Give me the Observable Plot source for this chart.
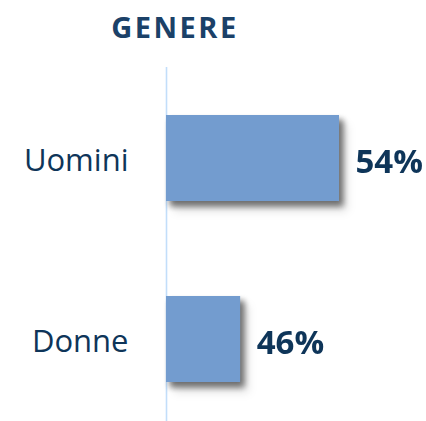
<!DOCTYPE html>
<html>
<head>
<meta charset="utf-8">
<script src="https://cdn.jsdelivr.net/npm/d3@7"></script>
<script src="https://cdn.jsdelivr.net/npm/@observablehq/plot@0.6"></script>
<style>
  html, body { margin: 0; padding: 0; background: #fff; }
  #wrap { position: relative; width: 426px; height: 421px; overflow: hidden; }
  #title { position: absolute; left: 0; width: 350px; top: 12px; text-align: center;
           font-family: "Open Sans", sans-serif; font-weight: 700; font-size: 29px; line-height: 29px;
           letter-spacing: 2.5px; color: #1b4168; }
  #chart { position: absolute; left: 0; top: 60px; }
</style>
</head>
<body>
<div id="wrap">
  <div id="title">GENERE</div>
  <div id="chart"></div>
</div>
<script>
const title = "GENERE";
const categories = ["Uomini", "Donne"];
const values = [54, 46];
const valueLabels = ["54%", "46%"];
const baseline = 40;

const data = categories.map((c, i) => ({category: c, value: values[i], label: valueLabels[i]}));

const shadow = "drop-shadow(4px 5px 3px rgba(0,0,0,0.35))";

const chart = Plot.plot({
  width: 426,
  height: 361,
  marginTop: 7,
  marginBottom: 0,
  marginLeft: 166,
  marginRight: 13,
  style: {background: "transparent", overflow: "visible"},
  x: {domain: [baseline, 54], range: [166, 339], axis: null},
  y: {domain: categories, range: [7.5, 369.5], paddingInner: 0.525, paddingOuter: 0.2625, axis: null},
  marks: [
    Plot.ruleX([baseline], {stroke: "#c2defa", strokeWidth: 1.6}),
    Plot.barX(data, {x1: () => baseline, x2: "value", y: "category", fill: "#739ccf", imageFilter: shadow}),
    Plot.text(data, {x: () => baseline, y: "category", text: "category", dx: -38, dy: 3, textAnchor: "end",
      fontFamily: "Open Sans", fontSize: 31, fill: "#0e3559"}),
    Plot.text(data, {x: "value", y: "category", text: "label", dx: 16, dy: 4, textAnchor: "start",
      fontFamily: "Open Sans", fontWeight: 700, fontSize: 33, fill: "#0e3559", letterSpacing: "-0.5px"})
  ]
});
chart.querySelectorAll("rect").forEach(r => { if (!r.style.filter) r.style.filter = shadow; });
document.getElementById("chart").appendChild(chart);
</script>
</body>
</html>
